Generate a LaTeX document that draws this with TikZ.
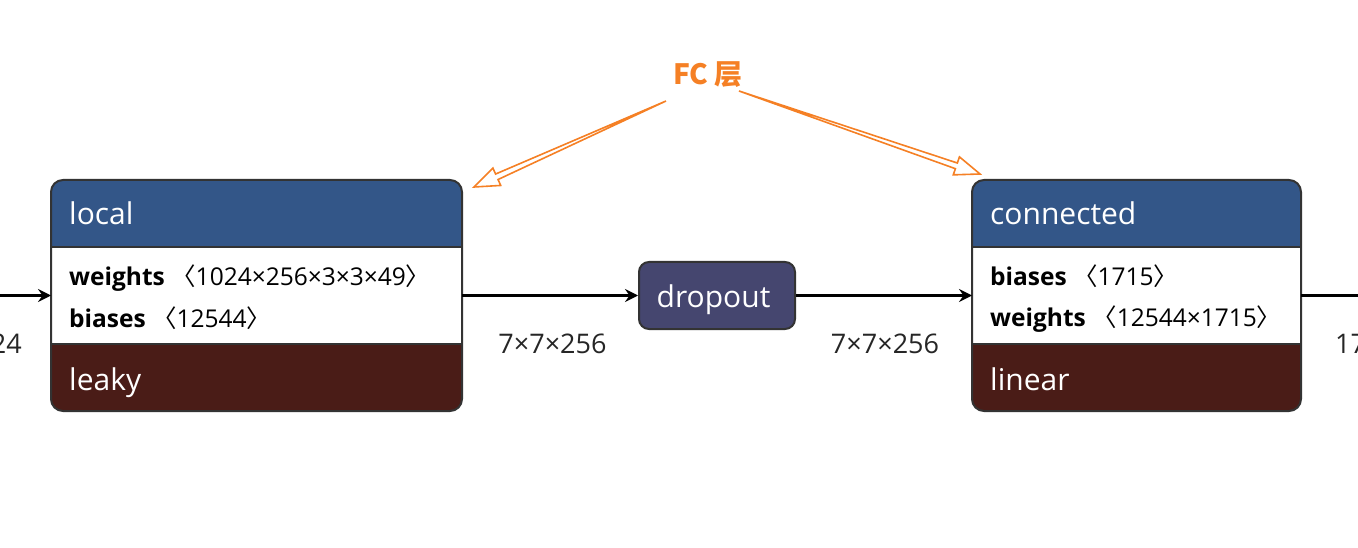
\documentclass[tikz,border=0pt]{standalone}
\usepackage{fontspec}
\setmainfont{Open Sans}
\newfontfamily\cjk{Noto Sans CJK SC}
\usetikzlibrary{calc,arrows.meta}
\definecolor{hdrblue}{HTML}{335688}
\definecolor{actred}{HTML}{4A1C17}
\definecolor{dropc}{HTML}{45466F}
\definecolor{edgec}{HTML}{333333}
\definecolor{fcorange}{HTML}{F58025}
\newcommand{\myla}{{\cjk 〈}}
\newcommand{\myra}{{\cjk 〉}}
\newcommand{\layerfill}[1]{%
  \begin{scope}
    \clip[rounded corners=12pt] (#1.south west) rectangle (#1.north east);
    \fill[hdrblue] (#1.north west) rectangle ($(#1.north east)+(0,67)$);
    \fill[white] ($(#1.north west)+(0,67)$) rectangle ($(#1.south east)+(0,-67)$);
    \fill[actred] ($(#1.south west)+(0,-67)$) rectangle (#1.south east);
  \end{scope}
  \draw[edgec, line width=2pt, rounded corners=12pt] (#1.south west) rectangle (#1.north east);
  \draw[edgec, line width=2pt] ($(#1.north west)+(0,67)$) -- ($(#1.north east)+(0,67)$);
  \draw[edgec, line width=2pt] ($(#1.south west)+(0,-67)$) -- ($(#1.south east)+(0,-67)$);
}
\newcommand{\fcarrow}[2]{%
  \coordinate (abase) at ($(#2)!25pt!(#1)$);
  \draw[fcorange, fill=white, line width=1.6pt, line join=miter]
    (#1) -- ($(abase)!3pt!90:(#2)$) -- ($(abase)!9.5pt!90:(#2)$) -- (#2)
    -- ($(abase)!9.5pt!-90:(#2)$) -- ($(abase)!3pt!-90:(#2)$) -- cycle;
}
\tikzset{
  layerbox/.style={rectangle, inner sep=0pt, outer sep=0pt},
  hdrtext/.style={text=white, font=\fontsize{30}{34}\selectfont, inner sep=0pt, anchor=base west},
  bodytext/.style={text=black, font=\fontsize{24.5}{28}\selectfont, inner sep=0pt, anchor=base west},
  dimtext/.style={text=black!85, font=\fontsize{27}{30}\selectfont, inner sep=0pt, anchor=base},
  flow/.style={line width=2.2pt, -{Stealth[length=13pt, width=13pt, inset=4.5pt]}},
}
\begin{document}
\begin{tikzpicture}[x=1pt,y=-1pt]
\useasboundingbox (0,0) rectangle (1358,548);
\clip (0,0) rectangle (1358,548);

% layer boxes
\node[layerbox, minimum width=411pt, minimum height=231pt] (local) at (256.5,295.5) {};
\node[layerbox, minimum width=329pt, minimum height=231pt] (conn) at (1136.5,295.5) {};
\layerfill{local}
\layerfill{conn}

\node[rectangle, draw=edgec, line width=2pt, fill=dropc, rounded corners=10pt,
      minimum width=156pt, minimum height=67pt, inner sep=0pt] (drop) at (717,295.5) {};
\node[hdrtext, anchor=base] (droptxt) at (713.5,307) {dropout};

% texts in boxes
\node[hdrtext] (localname) at (69,225) {local};
\node[bodytext] (localw) at (69,285) {\textbf{weights} \myla1024×256×3×3×49\myra};
\node[bodytext] (localb) at (69,327) {\textbf{biases} \myla12544\myra};
\node[hdrtext] (localact) at (69,390) {leaky};

\node[hdrtext] (connname) at (990,225) {connected};
\node[bodytext] (connb) at (990,285) {\textbf{biases} \myla1715\myra};
\node[bodytext] (connw) at (990,326) {\textbf{weights} \myla12544×1715\myra};
\node[hdrtext] (connact) at (990,390) {linear};

% connectors
\coordinate (in) at (-5,295.5);
\coordinate (out) at (1365,295.5);
\draw[flow] (in) -- (local.west);
\draw[flow] (local.east) -- (drop.west);
\draw[flow] (drop.east) -- (conn.west);
\draw[line width=2.2pt] (conn.east) -- (out);

% dimension labels
\node[dimtext, anchor=base east] (d0) at (22,353) {1024};
\node[dimtext] (d1) at (552.5,353) {7×7×256};
\node[dimtext] (d2) at (885,353) {7×7×256};
\node[dimtext, anchor=base west] (d3) at (1335,353) {1715};

% FC annotation
\node[text=fcorange, font=\cjk\bfseries\fontsize{28}{32}\selectfont, inner sep=0pt, anchor=base] (fc) at (708,85) {FC 层};
\coordinate (t1) at (666,101);
\coordinate (h1) at (474,187);
\coordinate (t2) at (739,91);
\coordinate (h2) at (980,174);
\fcarrow{t1}{h1}
\fcarrow{t2}{h2}
\end{tikzpicture}
\end{document}
